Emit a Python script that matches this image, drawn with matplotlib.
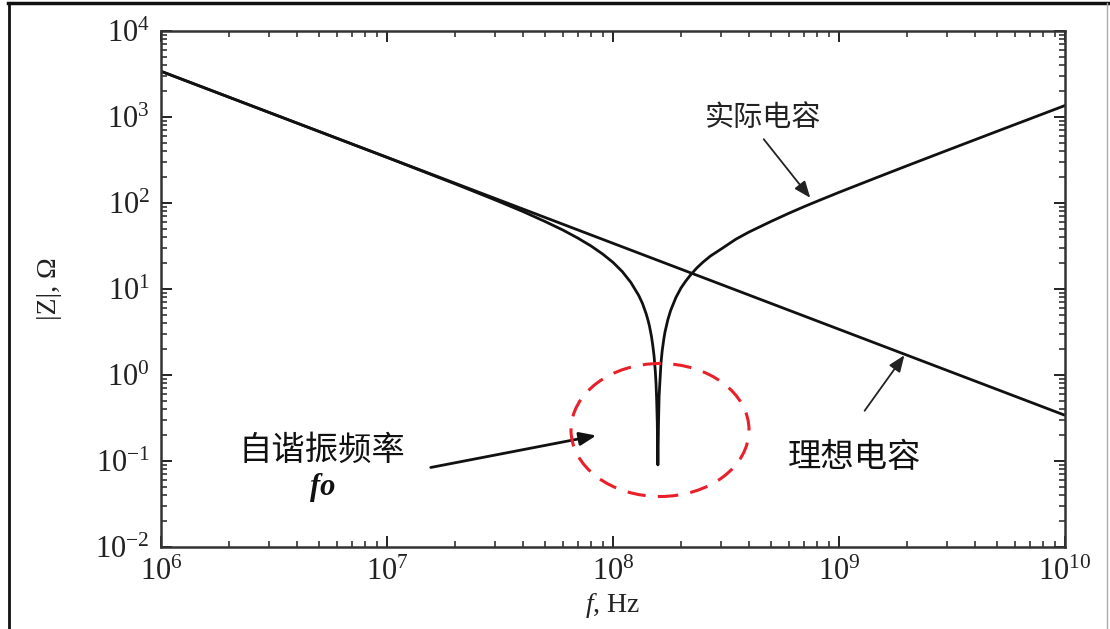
import matplotlib
matplotlib.use("Agg")
import matplotlib.pyplot as plt
from matplotlib.patches import Ellipse
from matplotlib.lines import Line2D
from matplotlib.ticker import LogLocator, NullFormatter

plt.rcParams['font.family'] = ['Liberation Serif', 'Noto Sans CJK SC', 'DejaVu Sans']
plt.rcParams['mathtext.fontset'] = 'custom'
plt.rcParams['mathtext.rm'] = 'Liberation Serif'
plt.rcParams['mathtext.it'] = 'Liberation Serif:italic'

# Ideal capacitor |Z| (straight line on log-log)
ideal_f = [1e6, 1e10]
ideal_z = [3400, 0.34]

actual_f = [1e6, 1e7, 2e7, 3e7, 4e7, 5e7, 6e7, 7e7, 8e7, 9e7, 1e8, 1.1e8, 1.2e8,
            1.3e8, 1.35e8, 1.4e8, 1.43e8, 1.45e8, 1.48e8, 1.5e8, 1.52e8, 1.54e8,
            1.55e8, 1.56e8, 1.57e8, 1.58e8, 1.59e8, 1.6e8, 1.61e8, 1.63e8, 1.65e8,
            1.68e8, 1.7e8, 1.75e8, 1.8e8, 1.9e8, 2e8, 2.1e8, 2.2e8, 2.35e8, 2.5e8,
            2.7e8, 3e8, 3.5e8, 4e8, 5e8, 6e8, 7e8, 8e8, 1e9, 1.5e9, 2e9, 3e9,
            5e9, 1e10]
actual_z = [3400, 339, 167, 109, 79.5, 61, 48.5, 39, 31.6, 25.5, 20.4, 15.9, 11.9,
            8.4, 6.8, 5.2, 4.3, 3.7, 2.8, 2.2, 1.65, 1.08,
            0.8, 0.52, 0.28, 0.09, 0.28, 0.57, 0.77, 1.36, 1.9,
            2.67, 3.2, 4.43, 5.65, 8.0, 10.3, 12.4, 14.5, 17.6, 20.5,
            24.2, 29, 38, 46, 61, 76, 90.6, 104.8, 133, 202, 271, 408,
            681, 1360]

x_ticks = [1e6, 1e7, 1e8, 1e9, 1e10]
x_ticklabels = ['$10^{6}$', '$10^{7}$', '$10^{8}$', '$10^{9}$', '$10^{10}$']
y_ticks = [1e-2, 1e-1, 1e0, 1e1, 1e2, 1e3, 1e4]
y_ticklabels = ['$10^{-2}$', '$10^{-1}$', '$10^{0}$', '$10^{1}$', '$10^{2}$', '$10^{3}$', '$10^{4}$']

label_actual = '实际电容'
label_ideal = '理想电容'
label_srf = '自谐振频率'

fig = plt.figure(figsize=(11.10, 6.29), dpi=100)
ax = fig.add_axes([161/1110, 1-547/629, (1065-161)/1110, (547-31)/629])

ax.plot(ideal_f, ideal_z, color='#111111', lw=2.0, solid_capstyle='butt')
ax.plot(actual_f, actual_z, color='#111111', lw=2.0, solid_joinstyle='round')

ax.set_xscale('log')
ax.set_yscale('log')
ax.set_xlim(1e6, 1e10)
ax.set_ylim(1e-2, 1e4)

ax.set_xticks(x_ticks)
ax.set_xticklabels(x_ticklabels)
ax.set_yticks(y_ticks)
ax.set_yticklabels(y_ticklabels)
ax.xaxis.set_minor_locator(LogLocator(base=10, subs=range(2, 10), numticks=20))
ax.yaxis.set_minor_locator(LogLocator(base=10, subs=range(2, 10), numticks=20))
ax.xaxis.set_minor_formatter(NullFormatter())
ax.yaxis.set_minor_formatter(NullFormatter())
ax.tick_params(which='both', direction='in', top=True, right=True, colors='#222222')
ax.tick_params(which='major', length=8, width=1.4, labelsize=22, pad=8, labelcolor='#222222')
ax.tick_params(which='minor', length=4, width=1.1)
for s in ax.spines.values():
    s.set_linewidth(1.8)
    s.set_color('#333333')

ax.set_xlabel('$f$, Hz', fontsize=20, color='#222222', labelpad=3)
ax.set_ylabel('|Z|, Ω', fontsize=20, color='#222222', labelpad=24)

# annotations
ax.annotate('', xy=(812, 629-200), xycoords='figure pixels',
            xytext=(762, 629-137), textcoords='figure pixels',
            arrowprops=dict(arrowstyle='-|>,head_length=1.0,head_width=0.4', color='#222222', lw=1.3))
ax.annotate('', xy=(906, 629-353), xycoords='figure pixels',
            xytext=(863, 629-413), textcoords='figure pixels',
            arrowprops=dict(arrowstyle='-|>,head_length=1.0,head_width=0.4', color='#222222', lw=1.3))
ax.annotate('', xy=(599, 629-435), xycoords='figure pixels',
            xytext=(428, 629-468), textcoords='figure pixels',
            arrowprops=dict(arrowstyle='-|>,head_length=1.0,head_width=0.4', color='#111111', lw=2.0))

fig.text(763/1110, 1-118/629, label_actual, fontsize=21, ha='center', va='center',
         family=['Noto Sans CJK SC'], color='#222222')
fig.text(855/1110, 1-457/629, label_ideal, fontsize=24, ha='center', va='center',
         family=['Noto Sans CJK SC'], color='#111111')
fig.text(322/1110, 1-450/629, label_srf, fontsize=24, ha='center', va='center',
         family=['Noto Sans CJK SC'], color='#111111')
fig.text(323/1110, 1-488/629, 'fo', fontsize=22, ha='center', va='center',
         family=['Liberation Serif'], style='italic', weight='bold', color='#111111')

# red dashed ellipse
ell = Ellipse((660/1110, 1-430/629), 178/1110, 133/629, transform=fig.transFigure,
              fill=False, edgecolor='#e8202a', lw=2.2, linestyle=(0, (6, 4)))
fig.add_artist(ell)

# image border
fig.add_artist(Line2D([8/1110, 1], [1-3/629, 1-3/629], transform=fig.transFigure, color='#111111', lw=2.5))
fig.add_artist(Line2D([8.5/1110, 8.5/1110], [0, 1-3/629], transform=fig.transFigure, color='#111111', lw=2.0))
fig.add_artist(Line2D([1107/1110, 1107/1110], [0, 1-3/629], transform=fig.transFigure, color='#aaaaaa', lw=1.0))

fig.savefig('out.png', dpi=100)
